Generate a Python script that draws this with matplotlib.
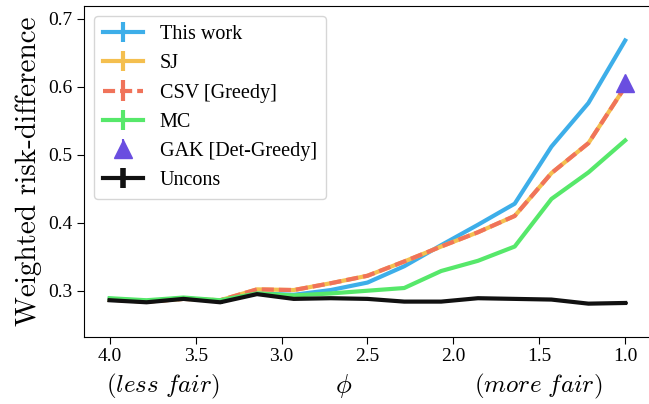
import numpy as np
import matplotlib
matplotlib.use('Agg')
import matplotlib.pyplot as plt

plt.rcParams['mathtext.fontset'] = 'cm'
plt.rcParams['font.family'] = ['Liberation Serif', 'DejaVu Serif']

# phi values, from less fair to more fair
phi = [4.0, 3.786, 3.571, 3.357, 3.143, 2.929, 2.714, 2.5,
       2.286, 2.071, 1.857, 1.643, 1.429, 1.214, 1.0]

this_work = [0.288, 0.285, 0.289, 0.285, 0.296, 0.294, 0.301, 0.312,
             0.336, 0.367, 0.397, 0.428, 0.512, 0.576, 0.668]
sj = [0.287, 0.284, 0.288, 0.286, 0.302, 0.301, 0.311, 0.322,
      0.343, 0.365, 0.386, 0.410, 0.473, 0.517, 0.600]
csv = [0.287, 0.284, 0.288, 0.286, 0.302, 0.301, 0.311, 0.322,
       0.343, 0.365, 0.386, 0.410, 0.473, 0.517, 0.600]
mc = [0.289, 0.286, 0.290, 0.286, 0.296, 0.293, 0.296, 0.300,
      0.304, 0.329, 0.344, 0.365, 0.435, 0.474, 0.521]
uncons = [0.286, 0.283, 0.288, 0.283, 0.295, 0.288, 0.289, 0.288,
          0.284, 0.284, 0.289, 0.288, 0.287, 0.281, 0.282]
uncons_err = [0.002] * 15
zero_err = [0.0] * 15

gak_phi = [1.0]
gak = [0.606]

fig = plt.figure(figsize=(6.49, 4.04), dpi=100)
ax = fig.add_axes([0.1294, 0.1666, 0.8736, 0.8185])

ax.errorbar(phi, this_work, yerr=zero_err, color='#3daee9', lw=3, label='This work')
ax.errorbar(phi, sj, yerr=zero_err, color='#f4bf4f', lw=3, label='SJ')
ax.errorbar(phi, csv, yerr=zero_err, color='#f0735a', lw=3, ls=(0, (2.9, 1.2)),
            label='CSV [Greedy]')
ax.errorbar(phi, mc, yerr=zero_err, color='#56e86a', lw=3, label='MC')
ax.errorbar(gak_phi, gak, yerr=[0.0], color='#6a4ee0', marker='^', markersize=13,
            ls='none', label='GAK [Det-Greedy]')
ax.errorbar(phi, uncons, yerr=uncons_err, color='#111111', lw=3, elinewidth=4,
            label='Uncons')

ax.set_xlim(4.15, 0.85)
ax.set_ylim(0.2324, 0.7187)
ax.set_xticks([4.0, 3.5, 3.0, 2.5, 2.0, 1.5, 1.0])
ax.set_yticks([0.3, 0.4, 0.5, 0.6, 0.7])
ax.tick_params(labelsize=14, length=5)

ax.set_ylabel('Weighted risk-difference', family='cmr10', fontsize=21)

fig.text(163 / 649, 1 - 386 / 404, r'$\mathit{(less\ fair)}$', fontsize=18,
         ha='center', va='center')
fig.text(344 / 649, 1 - 386 / 404, r'$\phi$', fontsize=19, ha='center', va='center')
fig.text(538 / 649, 1 - 386 / 404, r'$\mathit{(more\ fair)}$', fontsize=18,
         ha='center', va='center')

ax.legend(loc='upper left', fontsize=14.5, handlelength=2.0, borderpad=0.45,
          labelspacing=0.5, framealpha=0.8)

fig.savefig('out.png', dpi=100)
